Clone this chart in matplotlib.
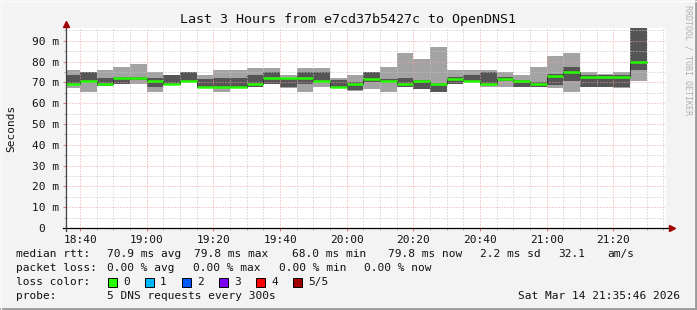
import numpy as np
import matplotlib
matplotlib.use('Agg')
import matplotlib.pyplot as plt
from matplotlib.patches import Rectangle
from matplotlib.lines import Line2D

plt.rcParams['font.family'] = 'DejaVu Sans Mono'

W, H = 697, 310

# 5 minute bins (start time in minutes after midnight), 18:35 .. 21:25
bin_start = np.arange(18 * 60 + 35, 21 * 60 + 30, 5)

# smoke: 5 pings per bin, sorted -> min, 2nd, median, 4th, max (ms)
rtt_max = [75.9, 75.1, 75.9, 77.3, 78.8, 75.1, 73.5, 75.1, 73.5, 75.9,
           75.9, 77.2, 77.2, 73.5, 77.2, 77.2, 72.2, 73.5, 75.1, 77.5,
           84.2, 81.2, 87.0, 75.9, 75.9, 75.9, 75.1, 73.5, 77.3, 82.6,
           84.1, 75.1, 74.0, 75.1, 96.2]
rtt_q3 = [73.5, 75.1, 72.2, 72.7, 72.7, 72.2, 73.5, 75.1, 71.9, 72.2,
          72.2, 73.5, 75.1, 72.2, 75.1, 75.1, 71.1, 70.0, 75.1, 71.9,
          72.2, 71.1, 69.8, 72.7, 73.6, 75.1, 72.4, 71.4, 70.0, 74.3,
          77.3, 73.5, 73.5, 73.5, 96.2]
rtt_med = [69.3, 70.7, 69.3, 72.0, 72.0, 70.7, 69.3, 70.7, 68.0, 68.0,
           68.0, 69.3, 72.2, 72.2, 72.2, 70.7, 68.0, 69.3, 71.7, 70.7,
           69.3, 70.7, 69.3, 71.7, 70.7, 69.3, 71.9, 70.6, 69.3, 73.3,
           74.8, 72.4, 72.4, 72.4, 79.8]
rtt_q1 = [69.0, 70.3, 68.2, 69.5, 71.1, 67.9, 68.9, 70.2, 67.1, 67.4,
          67.4, 67.9, 69.5, 67.9, 69.5, 70.3, 67.1, 66.3, 70.3, 70.0,
          67.9, 66.7, 65.4, 69.3, 70.3, 68.7, 70.7, 67.9, 67.9, 69.0,
          70.6, 67.7, 67.7, 67.9, 75.9]
rtt_min = [67.1, 65.4, 68.2, 69.5, 69.5, 65.4, 68.9, 70.2, 67.1, 65.4,
           67.4, 67.9, 69.5, 67.1, 65.4, 67.9, 67.1, 65.8, 66.7, 65.4,
           67.9, 66.7, 65.4, 69.3, 70.3, 67.9, 67.9, 67.9, 67.9, 67.1,
           65.4, 67.7, 67.7, 67.1, 70.7]

xtick_pos = [18 * 60 + 40, 19 * 60, 19 * 60 + 20, 19 * 60 + 40, 20 * 60,
             20 * 60 + 20, 20 * 60 + 40, 21 * 60, 21 * 60 + 20]
xtick_labels = ['18:40', '19:00', '19:20', '19:40', '20:00',
                '20:20', '20:40', '21:00', '21:20']
ytick_pos = [0, 10, 20, 30, 40, 50, 60, 70, 80, 90]
ytick_labels = ['0  ', '10 m', '20 m', '30 m', '40 m', '50 m', '60 m',
                '70 m', '80 m', '90 m']

loss_labels = ['0', '1', '2', '3', '4', '5/5']
loss_colors = ['#26ff00', '#00b8ff', '#0059ff', '#7e00ff', '#ff0000', '#a10000']

t_end = 21 * 60 + 35 + 46 / 60.0
t_start = t_end - 180

fig = plt.figure(figsize=(W / 100, H / 100), dpi=100, facecolor='#f3f3f3')
ax = fig.add_axes([66 / W, (H - 228) / H, 600 / W, 200 / H])
ax.set_facecolor('white')

lo = np.array(rtt_min)
hi = np.array(rtt_max)
ax.bar(bin_start, hi - lo, bottom=lo, width=5, align='edge',
       color='#a3a3a3', linewidth=0, zorder=1)
q1 = np.array(rtt_q1)
q3 = np.array(rtt_q3)
ax.bar(bin_start, q3 - q1, bottom=q1, width=5, align='edge',
       color='#555555', linewidth=0, zorder=1.2)
ax.step(np.append(bin_start, bin_start[-1] + 5), np.append(rtt_med, rtt_med[-1]),
        where='post', color='#222222', lw=0.6, zorder=3)
ax.hlines(rtt_med, bin_start, bin_start + 5, color='#26ff00', lw=1.8, zorder=3.2)

ax.set_xlim(t_start, t_end)
ax.set_ylim(0, 96.2)

ax.set_xticks(xtick_pos)
ax.set_xticklabels(xtick_labels)
ax.set_xticks(np.arange(18 * 60 + 40, 21 * 60 + 36, 5), minor=True)
ax.set_yticks(ytick_pos)
ax.set_yticklabels(ytick_labels)
ax.set_yticks(np.arange(5, 96, 10), minor=True)

ax.grid(which='major', color='#f2a0a0', lw=0.72, ls=(0, (1, 2)))
ax.grid(which='minor', color='#c4c4c4', lw=0.72, ls=(0, (1, 2)))
ax.set_axisbelow(False)

ax.tick_params(which='major', length=2.2, width=0.7, color='#e07070',
               labelsize=8, pad=2.5, labelcolor='#111111')
ax.tick_params(which='minor', length=1.5, width=0.7, color='#aaaaaa')
for s in ax.spines.values():
    s.set_visible(False)

# axes with arrows
ax.plot([-3 / 600, 606 / 600], [0, 0], transform=ax.transAxes, color='black',
        lw=0.9, clip_on=False, zorder=5)
ax.plot([0, 0], [-3 / 200, 204 / 200], transform=ax.transAxes, color='#404040',
        lw=0.9, clip_on=False, zorder=5)
ax.plot([606 / 600], [0], transform=ax.transAxes, marker='>', color='#a00000',
        ms=4, clip_on=False, zorder=6)
ax.plot([0], [204 / 200], transform=ax.transAxes, marker='^', color='#a00000',
        ms=4, clip_on=False, zorder=6)


def ftext(x, y, s, **kw):
    kw.setdefault('fontsize', 8)
    kw.setdefault('va', 'center')
    fig.text(x / W, 1 - y / H, s, color='#111111', **kw)


ftext(348, 19, 'Last 3 Hours from e7cd37b5427c to OpenDNS1', ha='center',
      fontsize=9.6)
ftext(11, 128, 'Seconds', ha='center', rotation=90)
fig.text(688 / W, 1 - 60 / H, 'RRDTOOL / TOBI OETIKER', rotation=270,
         ha='center', va='center', fontsize=6, color='#b0b0b0')

rows = [
    (254, [(16, 'median rtt:'), (107, '70.9 ms avg'), (194, '79.8 ms max'),
           (292, '68.0 ms min'), (388, '79.8 ms now'), (480, '2.2 ms sd'),
           (558, '32.1'), (607, 'am/s')]),
    (268, [(16, 'packet loss:'), (107, '0.00 % avg'), (193, '0.00 % max'),
           (279, '0.00 % min'), (364, '0.00 % now')]),
    (282, [(16, 'loss color:')]),
    (296, [(16, 'probe:'), (107, '5 DNS requests every 300s')]),
]
for y, items in rows:
    for x, s in items:
        ftext(x, y, s, ha='left')
ftext(680, 296, 'Sat Mar 14 21:35:46 2026', ha='right')

box_x = [108, 145, 182, 219, 256, 293]
for bx, lab, col in zip(box_x, loss_labels, loss_colors):
    fig.add_artist(Rectangle((bx / W, 1 - 286.5 / H), 8.5 / W, 8.5 / H,
                             transform=fig.transFigure, facecolor=col,
                             edgecolor='black', lw=0.7))
    ftext(bx + 15, 282, lab, ha='left')

# 3d-ish frame
fig.add_artist(Line2D([0, 1], [1.5 / H, 1.5 / H], transform=fig.transFigure,
                      color='#9a9a9a', lw=2))
fig.add_artist(Line2D([1 - 1.5 / W, 1 - 1.5 / W], [0, 1],
                      transform=fig.transFigure, color='#9a9a9a', lw=2))
fig.add_artist(Line2D([0, 1], [1 - 0.5 / H, 1 - 0.5 / H],
                      transform=fig.transFigure, color='#fbfbfb', lw=1))
fig.add_artist(Line2D([0.5 / W, 0.5 / W], [0, 1], transform=fig.transFigure,
                      color='#fbfbfb', lw=1))

fig.savefig('out.png', dpi=100, facecolor=fig.get_facecolor())
